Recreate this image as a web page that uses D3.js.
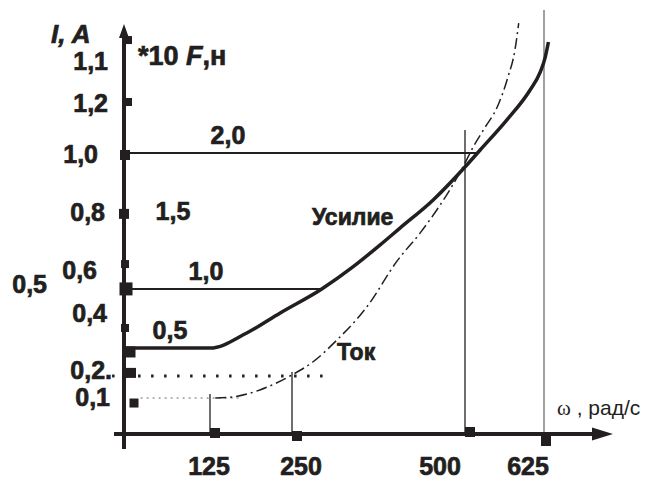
<!DOCTYPE html>
<html><head><meta charset="utf-8">
<script src="https://cdn.jsdelivr.net/npm/d3@7"></script>
<style>body{margin:0;background:#fff}svg{display:block}
text.b{stroke:#231f20;stroke-width:0.7px;paint-order:stroke}</style>
</head><body>
<svg id="chart" width="649" height="483"></svg>
<script>
// ---------------- DATA ----------------
// horizontal axis: angular speed ω, rad/s
const omegaTicks = [125, 250, 500, 625];
const omegaTickLabels = ["125", "250", "500", "625"];

// vertical axis (I, A) – tick labels and where they sit on the axis (as drawn)
const currentTickLabels = ["1,1", "1,2", "1,0", "0,8", "0,6", "0,4", "0,2.", "0,1"];
const currentTickAt = [1.337, 1.186, 1.002, 0.796, 0.588, 0.432, 0.229, 0.131];
const extraTickLabel = ["0,5"];
const extraTickAt = [0.538];
// square markers along the vertical axis
const axisMarkerAt = [1.412, 1.190, 1.000, 0.789, 0.609, 0.520, 0.380, 0.294, 0.219, 0.111];

// force levels (*10 F, Н) and their height on the plot
const forceLevelLabels = ["0,5", "1,0", "1,5", "2,0"];
const forceLevelAt = [0.308, 0.520, 0.735, 1.007];
const forceGuideEnd = [null, 293, null, 519];   // ω where guide meets force curve

// "Усилие" (force) curve
const forceOmega = [0, 125, 181, 232, 293, 338, 377, 406, 454, 500, 524, 566, 603, 619, 627, 632];
const forceValue = [0.308, 0.308, 0.362, 0.434, 0.520, 0.599, 0.677, 0.738, 0.839, 0.957, 1.018, 1.125, 1.233, 1.297, 1.351, 1.405];

// "Ток" (current) curve
const currentOmega = [133, 160, 201, 247, 280, 315, 358, 403, 435, 478, 500, 513, 532, 551, 568, 579, 585];
const currentValue = [0.129, 0.133, 0.158, 0.208, 0.258, 0.337, 0.455, 0.624, 0.720, 0.875, 0.971, 1.029, 1.100, 1.172, 1.280, 1.376, 1.473];

// vertical guides from the ω axis
const guideOmega = [125, 250, 500, 625];
const guideTop = [0.143, 0.222, 1.090, 1.520];
// horizontal dotted guides
const dottedLevel = [0.208, 0.129];
const dottedFrom = [-19, 23];
const dottedTo = [305, 172];

// ---------------- LAYOUT / STYLE ----------------
const INK = "#231f20";
const FONT = "'Liberation Sans', Arial, sans-serif";
const svg = d3.select("#chart");

const x = d3.scaleLinear().domain([0, 125, 250, 500, 625]).range([125, 210, 292, 465, 544]);
const y = d3.scaleLinear().domain([0, 1]).range([434, 155]);

const x0 = x(0), y0 = y(0);

// guides
svg.append("g").selectAll("line").data(guideOmega).join("line")
  .attr("x1", d => x(d)).attr("x2", d => x(d))
  .attr("y1", y0).attr("y2", (d, i) => y(guideTop[i]))
  .attr("stroke", (d, i) => i === 3 ? "#6d6e71" : INK)
  .attr("stroke-width", 1.3);

// force guide lines
svg.append("g").selectAll("line")
  .data(forceLevelAt.map((v, i) => ({v, end: forceGuideEnd[i]})).filter(d => d.end !== null))
  .join("line")
  .attr("x1", x0).attr("x2", d => x(d.end))
  .attr("y1", d => y(d.v)).attr("y2", d => y(d.v))
  .attr("stroke", INK).attr("stroke-width", 2);

// dotted guides
dottedLevel.forEach((v, i) => {
  svg.append("line")
    .attr("x1", x(dottedFrom[i])).attr("x2", x(dottedTo[i]))
    .attr("y1", y(v)).attr("y2", y(v))
    .attr("stroke", i === 0 ? INK : "#9a9a9a")
    .attr("stroke-width", i === 0 ? 3 : 1.5)
    .attr("stroke-dasharray", i === 0 ? "2.5,10.5" : "2,4");
});

// curves
const line = d3.line().x(d => x(d[0])).y(d => y(d[1])).curve(d3.curveMonotoneX);
svg.append("path")
  .attr("d", line(forceOmega.map((w, i) => [w, forceValue[i]])))
  .attr("fill", "none").attr("stroke", INK).attr("stroke-width", 3.5);
svg.append("path")
  .attr("d", line(currentOmega.map((w, i) => [w, currentValue[i]])))
  .attr("fill", "none").attr("stroke", INK).attr("stroke-width", 1.5)
  .attr("stroke-dasharray", "11,4,2,4");

// axes
svg.append("line").attr("x1", 114).attr("x2", 600).attr("y1", y0).attr("y2", y0)
  .attr("stroke", INK).attr("stroke-width", 4);
svg.append("path").attr("d", `M613,${y0} L592,${y0 - 6.5} L592,${y0 + 6.5} Z`).attr("fill", INK);
svg.append("line").attr("x1", x0 - 1).attr("x2", x0 - 1).attr("y1", 449).attr("y2", 34)
  .attr("stroke", INK).attr("stroke-width", 4);
svg.append("path").attr("d", `M${x0 - 1},24 L${x0 - 6},38 L${x0 + 4},38 Z`).attr("fill", INK);

// square markers on vertical axis
const vMarkSize = [8, 8, 10, 10, 8, 13, 8, 11, 10, 9];
const vMarkDx = [3, 3, 0, -1, 0, 1, 0, 5, 6, 9];
svg.append("g").selectAll("rect").data(axisMarkerAt).join("rect")
  .attr("x", (d, i) => x0 + vMarkDx[i] - vMarkSize[i] / 2)
  .attr("y", (d, i) => y(d) - vMarkSize[i] / 2)
  .attr("width", (d, i) => vMarkSize[i]).attr("height", (d, i) => vMarkSize[i])
  .attr("fill", INK);

// square markers on ω axis
const hMarkDx = [5, 5, 5, 2], hMarkDy = [-1, 2, -2, 7];
svg.append("g").selectAll("rect").data(omegaTicks).join("rect")
  .attr("x", (d, i) => x(d) + hMarkDx[i] - 5)
  .attr("y", (d, i) => y0 + hMarkDy[i] - 5)
  .attr("width", 10).attr("height", 10).attr("fill", INK);

// ω tick labels
const hLabDx = [-1, 9, -25, -16];
svg.append("g").selectAll("text").data(omegaTickLabels).join("text")
  .attr("class", "b")
  .attr("x", (d, i) => x(omegaTicks[i]) + hLabDx[i]).attr("y", 475)
  .attr("text-anchor", "middle")
  .attr("font-family", FONT).attr("font-weight", "bold").attr("font-size", 25)
  .attr("fill", INK).text(d => d);

// I tick labels
const vLabEnd = [108, 108, 98, 105, 97, 107, 112, 110];
svg.append("g").selectAll("text").data(currentTickLabels).join("text")
  .attr("class", "b")
  .attr("x", (d, i) => vLabEnd[i]).attr("y", (d, i) => y(currentTickAt[i]) + 9)
  .attr("text-anchor", "end")
  .attr("font-family", FONT).attr("font-weight", "bold").attr("font-size", 25)
  .attr("fill", INK).text(d => d);
svg.append("g").selectAll("text").data(extraTickLabel).join("text")
  .attr("class", "b")
  .attr("x", 47).attr("y", (d, i) => y(extraTickAt[i]) + 9)
  .attr("text-anchor", "end")
  .attr("font-family", FONT).attr("font-weight", "bold").attr("font-size", 25)
  .attr("fill", INK).text(d => d);

// force level labels
const fLabX = [170, 206, 173, 228];
svg.append("g").selectAll("text").data(forceLevelLabels).join("text")
  .attr("class", "b")
  .attr("x", (d, i) => fLabX[i]).attr("y", (d, i) => y(forceLevelAt[i]) - 9)
  .attr("text-anchor", "middle")
  .attr("font-family", FONT).attr("font-weight", "bold").attr("font-size", 25)
  .attr("fill", INK).text(d => d);

// axis titles
svg.append("text").attr("class", "b").attr("x", 51).attr("y", 43)
  .attr("font-family", FONT).attr("font-weight", "bold").attr("font-style", "italic")
  .attr("font-size", 26).attr("fill", INK).text("I, A");
const tF = svg.append("text").attr("class", "b").attr("x", 138).attr("y", 65)
  .attr("font-family", FONT).attr("font-weight", "bold").attr("font-size", 27).attr("fill", INK);
tF.append("tspan").text("*10 ");
tF.append("tspan").attr("font-style", "italic").text("F");
tF.append("tspan").text(",н");

const tW = svg.append("text").attr("x", 557).attr("y", 415).attr("fill", INK).attr("font-size", 21);
tW.append("tspan").attr("font-family", "'Liberation Serif', 'Times New Roman', serif").text("ω");
tW.append("tspan").attr("font-family", FONT).text(" , рад/с");

// curve names
svg.append("text").attr("class", "b").attr("x", 312).attr("y", 225)
  .attr("font-family", FONT).attr("font-weight", "bold").attr("font-size", 23)
  .attr("fill", INK).text("Усилие");
svg.append("text").attr("class", "b").attr("x", 337).attr("y", 360)
  .attr("font-family", FONT).attr("font-weight", "bold").attr("font-size", 23)
  .attr("fill", INK).text("Ток");
</script>
</body></html>
